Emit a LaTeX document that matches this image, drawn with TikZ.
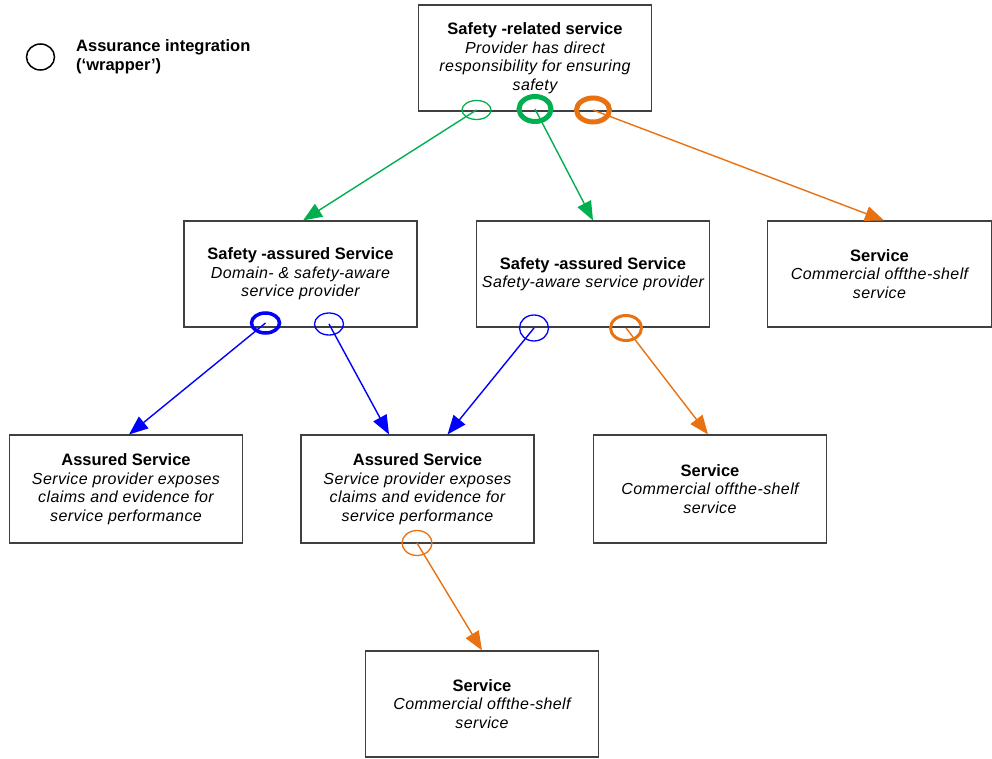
\documentclass[tikz,border=0pt]{standalone}
\usepackage{fontspec}
\setmainfont{Liberation Sans}
\newfontface\itf{Liberation Sans Italic}[LetterSpace=2.5]
\usetikzlibrary{arrows.meta,shapes.geometric}
\definecolor{gr}{RGB}{0,176,80}
\definecolor{org}{RGB}{232,113,18}
\definecolor{bl}{RGB}{0,0,255}
\definecolor{bx}{RGB}{64,64,64}
\newcommand{\ttl}[1]{{\fontsize{16.5}{18.5}\selectfont\bfseries #1}}
\newcommand{\itl}[1]{{\itf #1}}
\tikzset{
  box/.style={draw=bx,line width=1.1pt,fill=white,minimum width=233pt,minimum height=106pt,
    align=center,inner sep=0pt,font=\fontsize{16}{18.5}\selectfont},
  wrap/.style={ellipse,draw,inner sep=0pt,fill=none},
  arr/.style={line width=1.4pt,-{Triangle[length=19pt,width=15pt]}},
}
\begin{document}
\begin{tikzpicture}[x=1pt,y=-1pt]
\useasboundingbox (0,0) rectangle (992,759);
% legend
\node[wrap,draw=black,line width=1.5pt,minimum width=28pt,minimum height=26pt] (leg) at (40.5,57) {};
\node[anchor=west,align=left,inner sep=0pt,font=\fontsize{16.5}{19}\selectfont\bfseries] (legt) at (76,56.5) {Assurance integration\\(‘wrapper’)};
% boxes
\node[box] (top) at (535,58) {\ttl{Safety -related service}\\\itl{Provider has direct}\\\itl{responsibility for ensuring}\\\itl{safety}};
\node[box] (sa1) at (300.5,274) {\ttl{Safety -assured Service}\\\itl{Domain- \& safety-aware}\\\itl{service provider}};
\node[box] (sa2) at (593,274) {\ttl{Safety -assured Service}\\\itl{Safety-aware service provider}};
\node[box,minimum width=224pt] (s1) at (879.5,274) {\ttl{Service}\\\itl{Commercial offthe-shelf}\\\itl{service}};
\node[box,minimum height=108pt] (a1) at (126,489) {\ttl{Assured Service}\\\itl{Service provider exposes}\\\itl{claims and evidence for}\\\itl{service performance}};
\node[box,minimum height=108pt] (a2) at (417.5,489) {\ttl{Assured Service}\\\itl{Service provider exposes}\\\itl{claims and evidence for}\\\itl{service performance}};
\node[box,minimum height=108pt] (s2) at (710,489) {\ttl{Service}\\\itl{Commercial offthe-shelf}\\\itl{service}};
\node[box] (s3) at (482,704) {\ttl{Service}\\\itl{Commercial offthe-shelf}\\\itl{service}};
% wrappers
\node[wrap,draw=gr,line width=1.3pt,minimum width=29pt,minimum height=19pt] (g1) at (476.5,110) {};
\node[wrap,draw=gr,line width=5pt,minimum width=32pt,minimum height=25pt] (g2) at (535,109) {};
\node[wrap,draw=org,line width=5pt,minimum width=33pt,minimum height=24pt] (o1) at (593,110) {};
\node[wrap,draw=bl,line width=3.5pt,minimum width=28pt,minimum height=20pt] (b1) at (265.5,323) {};
\node[wrap,draw=bl,line width=1.3pt,minimum width=29pt,minimum height=22pt] (b2) at (329,324) {};
\node[wrap,draw=bl,line width=1.3pt,minimum width=29pt,minimum height=26pt] (b3) at (534,328) {};
\node[wrap,draw=org,line width=3pt,minimum width=31pt,minimum height=25pt] (o2) at (626,328) {};
\node[wrap,draw=org,line width=1.3pt,minimum width=30pt,minimum height=25pt] (o3) at (417,543) {};
% connectors
\draw[arr,gr] (g1.center) -- ([xshift=2.5pt]sa1.north);
\draw[arr,gr] (g2.center) -- (sa2.north);
\draw[arr,org] (o1.center) -- ([xshift=4.5pt]s1.north);
\draw[arr,bl] (b1.center) -- ([xshift=3pt]a1.north);
\draw[arr,bl] (b2.center) -- ([xshift=-28.5pt]a2.north);
\draw[arr,bl] (b3.center) -- ([xshift=30pt]a2.north);
\draw[arr,org] (o2.center) -- ([xshift=-2pt]s2.north);
\draw[arr,org] (o3.center) -- (s3.north);
\end{tikzpicture}
\end{document}
